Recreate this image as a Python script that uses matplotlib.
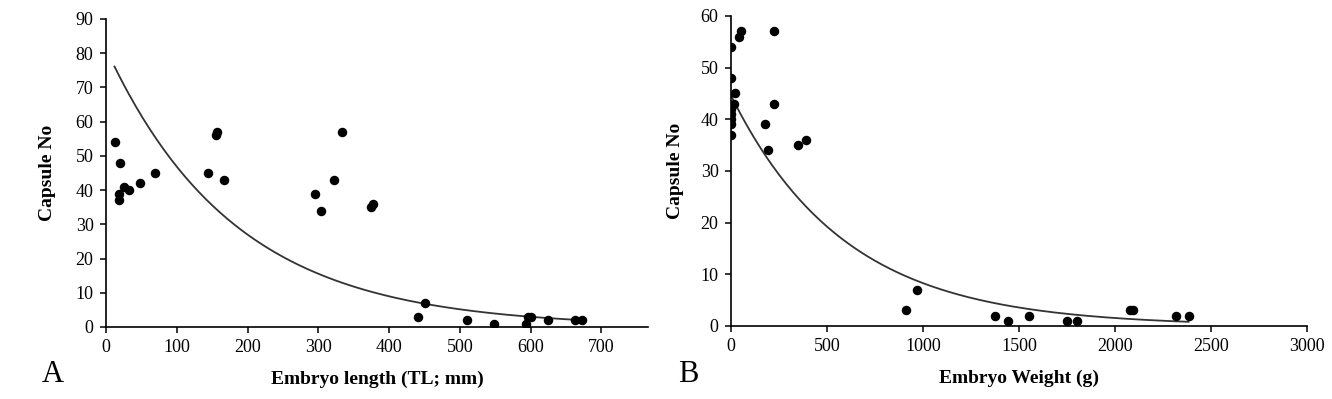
import numpy as np
import matplotlib
matplotlib.use('Agg')
import matplotlib.pyplot as plt

plt.rcParams['font.family'] = ['Liberation Serif', 'DejaVu Serif']

# Panel A: embryo length (TL; mm) vs capsule number
len_x = [12, 20, 18, 18, 26, 33, 48, 69, 144, 155, 157, 167, 296, 304, 322, 334,
         375, 378, 441, 451, 510, 548, 594, 597, 600, 625, 663, 672]
len_y = [54, 48, 39, 37, 41, 40, 42, 45, 45, 56, 57, 43, 39, 34, 43, 57,
         35, 36, 3, 7, 2, 1, 1, 3, 3, 2, 2, 2]

# Panel B: embryo weight (g) vs capsule number
wt_x = [0, 0, 0, 0, 0, 0, 0, 23, 17, 43, 52, 179, 191, 226, 226, 349, 391,
        911, 969, 1376, 1443, 1550, 1748, 1804, 2080, 2095, 2316, 2383]
wt_y = [54, 48, 42, 41, 40, 39, 37, 45, 43, 56, 57, 39, 34, 57, 43, 35, 36,
        3, 7, 2, 1, 2, 1, 1, 3, 3, 2, 2]

len_ticks = [0, 100, 200, 300, 400, 500, 600, 700]
wt_ticks = [0, 500, 1000, 1500, 2000, 2500, 3000]


def exp_trend(x, y):
    # exponential trendline, fitted on log(y) like a spreadsheet does
    x = np.asarray(x, float)
    y = np.asarray(y, float)
    b, lna = np.polyfit(x, np.log(y), 1)
    xs = np.linspace(x.min(), x.max(), 200)
    return xs, np.exp(lna) * np.exp(b * xs)


fig = plt.figure(figsize=(13.32, 3.99), dpi=100)
axA = fig.add_axes([0.0796, 0.1805, 0.4069, 0.772])
axB = fig.add_axes([0.5488, 0.183, 0.4324, 0.777])

for ax, x, y in [(axA, len_x, len_y), (axB, wt_x, wt_y)]:
    xs, ys = exp_trend(x, y)
    ax.plot(xs, ys, color='#333333', lw=1.3)
    ax.scatter(x, y, s=34, c='k', zorder=3)
    for s in ['top', 'right']:
        ax.spines[s].set_visible(False)
    for s in ['left', 'bottom']:
        ax.spines[s].set_linewidth(1.2)
    ax.tick_params(labelsize=13, length=4, width=1.1, pad=5)

axA.set_xlim(0, 766)
axA.set_ylim(0, 90)
axA.set_xticks(len_ticks)
axA.set_yticks(range(0, 91, 10))
axA.set_ylabel('Capsule No', fontsize=14, fontweight='bold', labelpad=14)
axA.set_xlabel('Embryo length (TL; mm)', fontsize=14, fontweight='bold', labelpad=10)

axB.set_xlim(0, 3000)
axB.set_ylim(0, 60)
axB.set_xticks(wt_ticks)
axB.set_yticks(range(0, 61, 10))
axB.set_ylabel('Capsule No', fontsize=14, fontweight='bold', labelpad=12)
axB.set_xlabel('Embryo Weight (g)', fontsize=14, fontweight='bold', labelpad=10)

fig.text(53 / 1332, 1 - 374 / 399, 'A', fontsize=22, ha='center', va='center')
fig.text(688 / 1332, 1 - 375 / 399, 'B', fontsize=22, ha='center', va='center')

fig.savefig('out.png', dpi=100)
